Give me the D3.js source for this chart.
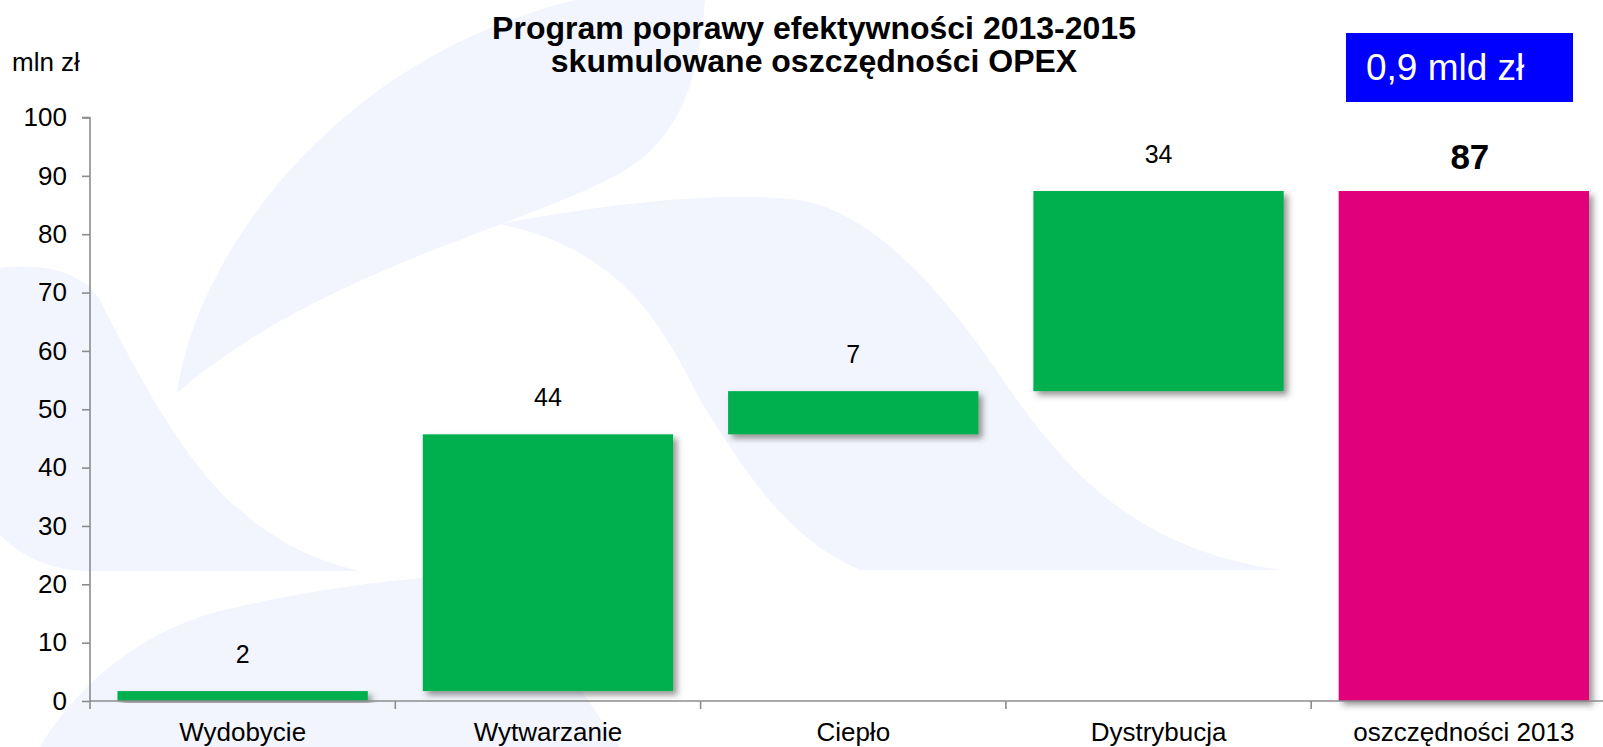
<!DOCTYPE html>
<html>
<head>
<meta charset="utf-8">
<script src="https://cdn.jsdelivr.net/npm/d3@7"></script>
<style>
	body { margin: 0; background: #fff; overflow: hidden; }
	text { font-family: "Liberation Sans", Arial, sans-serif; }
</style>
</head>
<body>
<script>
var categories = ['Wydobycie', 'Wytwarzanie', 'Ciepło', 'Dystrybucja', 'oszczędności 2013'];
var deltas = [1.7, 44.0, 7.4, 34.3];
var valueLabels = ['2', '44', '7', '34', '87'];
var yTicks = [0, 10, 20, 30, 40, 50, 60, 70, 80, 90, 100];
var titleLines = ['Program poprawy efektywności 2013-2015', 'skumulowane oszczędności OPEX'];
var unitLabel = 'mln zł';
var boxLabel = '0,9 mld zł';

var width = 1603, height = 747;
var green = '#00b050', pink = '#e2007a';

// waterfall steps: each green bar sits on the running total, the last one is the total
var buildSteps = function(){
	var steps = [];
	var run = 0;
	deltas.forEach(function(d, i){
		steps.push({cat: categories[i], y0: run, y1: run + d, label: valueLabels[i], total: false});
		run += d;
	});
	steps.push({cat: categories[deltas.length], y0: 0, y1: run, label: valueLabels[deltas.length], total: true});
	return steps;
}

var createSvg = function(){
	var svg = d3.select('body')
		.append('svg')
		.attr('width', width)
		.attr('height', height);

	var filter = svg.append('defs').append('filter')
		.attr('id', 'shadow')
		.attr('x', '-10%').attr('y', '-10%')
		.attr('width', '130%').attr('height', '130%');
	filter.append('feDropShadow')
		.attr('dx', 4).attr('dy', 4)
		.attr('stdDeviation', 3)
		.attr('flood-color', '#404040')
		.attr('flood-opacity', 0.55);
	return svg;
}

// faint logo swooshes behind the chart
var drawBackground = function(svg){
	var shapes = [
		'M575,0 L705,0 C700,60 690,120 640,160 C560,220 330,260 177,393 C195,260 330,60 575,0 Z',
		'M0,268 C50,262 85,275 100,300 C140,380 190,470 240,510 C280,545 320,562 360,571 L90,571 C50,571 20,555 0,535 Z',
		'M500,224 C600,205 720,190 800,200 C880,215 950,300 1010,390 C1080,490 1150,550 1280,570 L860,570 C790,540 750,480 700,400 C660,320 620,250 500,224 Z',
		'M40,747 C80,680 150,625 233,608 C300,592 380,580 470,574 C540,620 580,690 620,747 Z'
	];
	svg.append('g')
		.selectAll('path')
		.data(shapes)
		.enter()
		.append('path')
		.attr('d', function(d){return d})
		.attr('fill', '#f2f5fd');
}

var drawChart = function(svg){
	var steps = buildSteps();

	var x = d3.scaleBand()
		.domain(categories)
		.range([90, 1616.5])
		.paddingInner(0.18)
		.paddingOuter(0.09);

	var y = d3.scaleLinear()
		.domain([0, 100])
		.range([701, 117.5]);

	// y axis
	var yAxis = svg.append('g')
		.attr('transform', 'translate(90,0)')
		.call(d3.axisLeft(y).tickValues(yTicks).tickSize(8).tickPadding(15));
	yAxis.selectAll('path, line').attr('stroke', '#8c8c8c').attr('stroke-width', 1.6);
	yAxis.select('.domain').attr('d', 'M-8,' + y(100) + 'H0V' + y(0));
	yAxis.selectAll('text')
		.attr('font-size', 26)
		.attr('fill', '#000')
		.style('font-family', '"Liberation Sans", Arial, sans-serif');

	// bars
	svg.append('g')
		.selectAll('rect')
		.data(steps)
		.enter()
		.append('rect')
		.attr('x', function(d){return x(d.cat)})
		.attr('width', x.bandwidth())
		.attr('y', function(d){return y(d.y1)})
		.attr('height', function(d){return y(d.y0) - y(d.y1)})
		.attr('fill', function(d){return d.total ? pink : green})
		.attr('filter', 'url(#shadow)');

	// x axis: line, boundary ticks, centered labels
	var xAxis = svg.append('g')
		.attr('transform', 'translate(0,' + y(0) + ')')
		.call(d3.axisBottom(x).tickSize(0).tickPadding(22));
	xAxis.select('.domain').attr('d', 'M90,0H' + width).attr('stroke', '#8c8c8c').attr('stroke-width', 1.6);
	xAxis.selectAll('text')
		.attr('font-size', 26)
		.attr('fill', '#000')
		.style('font-family', '"Liberation Sans", Arial, sans-serif');

	var edges = d3.range(categories.length + 1).map(function(i){return 90 + i * x.step()});
	svg.append('g')
		.selectAll('line')
		.data(edges)
		.enter()
		.append('line')
		.attr('x1', function(d){return d}).attr('x2', function(d){return d})
		.attr('y1', y(0)).attr('y2', y(0) + 8)
		.attr('stroke', '#8c8c8c')
		.attr('stroke-width', 1.6);

	// value labels above bars
	svg.append('g')
		.selectAll('text')
		.data(steps)
		.enter()
		.append('text')
		.attr('x', function(d){return x(d.cat) + x.bandwidth() / 2 + (d.total ? 6 : 0)})
		.attr('y', function(d){return y(d.y1) - (d.total ? 22 : 28)})
		.attr('text-anchor', 'middle')
		.attr('font-size', function(d){return d.total ? 35 : 25})
		.attr('font-weight', function(d){return d.total ? 'bold' : 'normal'})
		.text(function(d){return d.label});
}

var drawTexts = function(svg){
	svg.append('g')
		.selectAll('text')
		.data(titleLines)
		.enter()
		.append('text')
		.attr('x', 814)
		.attr('y', function(d, i){return 39 + i * 33})
		.attr('text-anchor', 'middle')
		.attr('font-size', 32)
		.attr('font-weight', 'bold')
		.text(function(d){return d});

	svg.append('text')
		.attr('x', 12)
		.attr('y', 71)
		.attr('font-size', 26)
		.text(unitLabel);

	svg.append('rect')
		.attr('x', 1346).attr('y', 33)
		.attr('width', 227).attr('height', 69)
		.attr('fill', '#0000ff');
	svg.append('text')
		.attr('x', 1366)
		.attr('y', 80)
		.attr('font-size', 37)
		.attr('fill', '#fff')
		.text(boxLabel);
}

window.onload = function(){
	var svg = createSvg();
	drawBackground(svg);
	drawChart(svg);
	drawTexts(svg);
}
</script>
</body>
</html>
